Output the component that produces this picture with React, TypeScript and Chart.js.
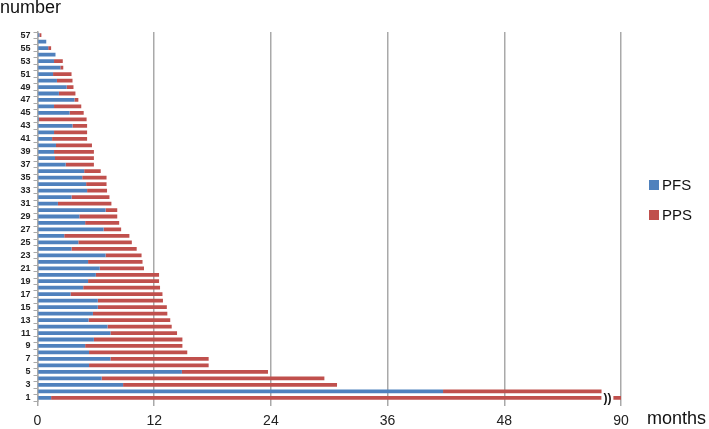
import React, { useEffect, useRef } from "react";
import { Chart, registerables } from "chart.js";

Chart.register(...registerables);

// Case numbers (1 at the bottom, 57 at the top)
const caseNumbers: number[] = Array.from({ length: 57 }, (_, i) => i + 1);

// Progression-free survival (months), case 1..57
const pfs: number[] = [
  1.4, 41.7, 8.8, 6.6, 14.85, 5.3, 7.5, 5.3, 4.9, 5.8,
  7.5, 7.2, 5.25, 5.7, 6.2, 6.2, 3.4, 4.7, 5.2, 6.0,
  6.4, 5.2, 7.0, 3.5, 4.2, 2.75, 6.8, 4.9, 4.3, 7.0,
  2.1, 3.5, 5.1, 5.0, 4.6, 4.8, 2.9, 1.8, 1.7, 1.9,
  1.5, 1.7, 3.6, 0.15, 3.3, 1.7, 3.8, 2.2, 3.0, 2.0,
  1.6, 2.35, 1.7, 1.85, 1.1, 0.9, 0.2,
];

// Post-progression survival (months), case 1..57 (case 1 runs past the axis break)
const pps: number[] = [
  88.6, 16.3, 22.0, 22.9, 8.85, 12.3, 10.1, 10.1, 10.0, 9.1,
  6.85, 6.6, 8.4, 7.65, 7.1, 6.7, 9.45, 7.9, 7.3, 6.5,
  4.55, 5.6, 3.7, 6.7, 5.5, 6.7, 1.8, 3.5, 3.9, 1.2,
  5.5, 3.9, 2.05, 2.1, 2.5, 1.7, 2.9, 4.0, 4.1, 3.7,
  3.6, 3.4, 1.5, 4.9, 1.45, 2.8, 0.4, 1.7, 0.7, 1.6,
  1.9, 0.3, 0.9, 0, 0.3, 0, 0.2,
];

// X tick values and the labels shown for them (axis is broken before the last tick)
const xTickValues: number[] = [0, 12, 24, 36, 48, 60];
const xTickLabels: string[] = ["0", "12", "24", "36", "48", "90"];

const seriesNames: string[] = ["PFS", "PPS"];
const seriesColors: string[] = ["#4F81BD", "#C0504D"];

const FONT = "'Liberation Sans', Arial, sans-serif";

const overlayPlugin = {
  id: "overlay",
  afterDatasetsDraw(chart: any) {
    const ctx = chart.ctx;
    const x = chart.scales.x;
    const y = chart.scales.y;
    // axis break marker on case 1
    const py = y.getPixelForValue(0);
    const px = x.getPixelForValue(58.6);
    ctx.save();
    ctx.fillStyle = "#ffffff";
    ctx.fillRect(px - 6, py - 3, 12, 6);
    ctx.fillStyle = "#111";
    ctx.font = `bold 12px ${FONT}`;
    ctx.textAlign = "center";
    ctx.textBaseline = "middle";
    ctx.fillText("))", px, py + 0.5);
    ctx.restore();
  },
  afterDraw(chart: any) {
    const ctx = chart.ctx;
    ctx.save();
    ctx.fillStyle = "#111";
    ctx.font = `18px ${FONT}`;
    ctx.textAlign = "left";
    ctx.textBaseline = "alphabetic";
    ctx.fillText("number", 0, 12.5);
    ctx.fillText("months", 647, 424);
    // legend
    const legendY = [185, 215];
    ctx.font = `15px ${FONT}`;
    ctx.textBaseline = "middle";
    seriesNames.forEach((name, i) => {
      ctx.fillStyle = seriesColors[i];
      ctx.fillRect(649, legendY[i] - 5, 10, 10);
      ctx.fillStyle = "#111";
      ctx.fillText(name, 662, legendY[i] + 1);
    });
    ctx.restore();
  },
};

export default function App() {
  const ref = useRef<HTMLCanvasElement>(null);
  useEffect(() => {
    if (!ref.current) return;
    const chart = new Chart(ref.current, {
      type: "bar",
      data: {
        labels: caseNumbers.map(String),
        datasets: [
          { label: seriesNames[0], data: pfs, backgroundColor: seriesColors[0], barPercentage: 1, categoryPercentage: 0.58 },
          { label: seriesNames[1], data: pps, backgroundColor: seriesColors[1], barPercentage: 1, categoryPercentage: 0.58 },
        ],
      },
      options: {
        indexAxis: "y",
        animation: false,
        responsive: false,
        maintainAspectRatio: false,
        layout: { padding: { left: 0, right: 88, top: 32, bottom: 0 } },
        plugins: { legend: { display: false }, tooltip: { enabled: false } },
        scales: {
          x: {
            stacked: true,
            min: 0,
            max: 60,
            afterBuildTicks: (s: any) => {
              s.ticks = xTickValues.map((v) => ({ value: v }));
            },
            afterFit: (s: any) => {
              s.height = 28;
            },
            ticks: {
              color: "#222",
              font: { family: FONT, size: 14 },
              padding: 7,
              maxRotation: 0,
              callback: (v: any) => {
                const i = xTickValues.indexOf(Number(v));
                return i >= 0 ? xTickLabels[i] : "";
              },
            },
            grid: { color: "#a9a9a9", lineWidth: 1.5, tickLength: 5, drawTicks: true },
            border: { display: false },
          },
          y: {
            stacked: true,
            reverse: true,
            afterFit: (s: any) => {
              s.width = 37.5;
            },
            ticks: {
              autoSkip: false,
              color: "#222",
              font: { family: FONT, size: 9, weight: "bold" },
              padding: 3,
              callback: (_v: any, i: number) => (caseNumbers[i] % 2 === 1 ? String(caseNumbers[i]) : ""),
            },
            grid: { drawOnChartArea: false, drawTicks: true, tickLength: 4, color: "#a9a9a9", lineWidth: 1 },
            border: { display: true, color: "#a9a9a9", width: 1.5 },
          },
        },
      },
      plugins: [overlayPlugin],
    });
    return () => chart.destroy();
  }, []);
  return (
    <div style={{ position: "fixed", left: 0, top: 0, width: 709, height: 429, background: "#fff" }}>
      <canvas ref={ref} width={709} height={429} style={{ width: 709, height: 429, display: "block" }} />
    </div>
  );
}
